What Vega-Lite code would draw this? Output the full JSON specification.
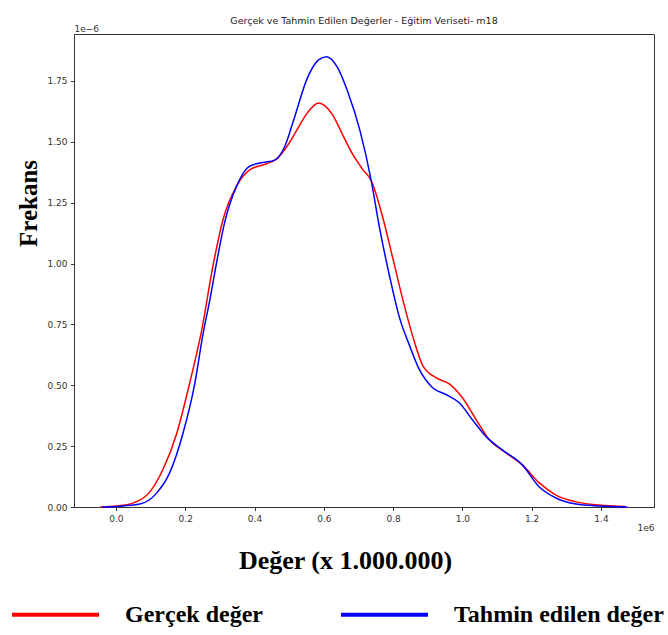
{
  "$schema": "https://vega.github.io/schema/vega-lite/v6.json",
  "width": 580,
  "height": 473,
  "autosize": {"type": "none"},
  "padding": {"left": 74, "top": 34, "right": 14, "bottom": 128},
  "background": "white",
  "title": {
    "text": "Gerçek ve Tahmin Edilen Değerler - Eğitim Veriseti- m18",
    "font": "DejaVu Sans",
    "fontSize": 9.5,
    "fontWeight": "normal",
    "color": "#222222",
    "anchor": "middle",
    "frame": "group",
    "baseline": "alphabetic",
    "offset": -9
  },
  "data": {
    "values": [
      {"v": -0.045, "d": 0.0, "s": "Gerçek değer"},
      {"v": 0.0, "d": 0.004, "s": "Gerçek değer"},
      {"v": 0.049, "d": 0.016, "s": "Gerçek değer"},
      {"v": 0.098, "d": 0.062, "s": "Gerçek değer"},
      {"v": 0.135, "d": 0.152, "s": "Gerçek değer"},
      {"v": 0.175, "d": 0.3, "s": "Gerçek değer"},
      {"v": 0.213, "d": 0.51, "s": "Gerçek değer"},
      {"v": 0.248, "d": 0.73, "s": "Gerçek değer"},
      {"v": 0.28, "d": 0.99, "s": "Gerçek değer"},
      {"v": 0.309, "d": 1.18, "s": "Gerçek değer"},
      {"v": 0.349, "d": 1.32, "s": "Gerçek değer"},
      {"v": 0.386, "d": 1.385, "s": "Gerçek değer"},
      {"v": 0.435, "d": 1.41, "s": "Gerçek değer"},
      {"v": 0.464, "d": 1.43, "s": "Gerçek değer"},
      {"v": 0.493, "d": 1.48, "s": "Gerçek değer"},
      {"v": 0.523, "d": 1.55, "s": "Gerçek değer"},
      {"v": 0.553, "d": 1.62, "s": "Gerçek değer"},
      {"v": 0.585, "d": 1.66, "s": "Gerçek değer"},
      {"v": 0.624, "d": 1.614, "s": "Gerçek değer"},
      {"v": 0.654, "d": 1.53, "s": "Gerçek değer"},
      {"v": 0.684, "d": 1.447, "s": "Gerçek değer"},
      {"v": 0.712, "d": 1.387, "s": "Gerçek değer"},
      {"v": 0.737, "d": 1.34, "s": "Gerçek değer"},
      {"v": 0.77, "d": 1.19, "s": "Gerçek değer"},
      {"v": 0.8, "d": 1.017, "s": "Gerçek değer"},
      {"v": 0.828, "d": 0.852, "s": "Gerçek değer"},
      {"v": 0.857, "d": 0.7, "s": "Gerçek değer"},
      {"v": 0.886, "d": 0.58, "s": "Gerçek değer"},
      {"v": 0.925, "d": 0.53, "s": "Gerçek değer"},
      {"v": 0.963, "d": 0.505, "s": "Gerçek değer"},
      {"v": 1.0, "d": 0.449, "s": "Gerçek değer"},
      {"v": 1.04, "d": 0.358, "s": "Gerçek değer"},
      {"v": 1.078, "d": 0.276, "s": "Gerçek değer"},
      {"v": 1.126, "d": 0.222, "s": "Gerçek değer"},
      {"v": 1.173, "d": 0.173, "s": "Gerçek değer"},
      {"v": 1.222, "d": 0.099, "s": "Gerçek değer"},
      {"v": 1.27, "d": 0.049, "s": "Gerçek değer"},
      {"v": 1.328, "d": 0.021, "s": "Gerçek değer"},
      {"v": 1.395, "d": 0.008, "s": "Gerçek değer"},
      {"v": 1.47, "d": 0.002, "s": "Gerçek değer"},
      {"v": -0.04, "d": 0.0, "s": "Tahmin edilen değer"},
      {"v": 0.0, "d": 0.002, "s": "Tahmin edilen değer"},
      {"v": 0.069, "d": 0.012, "s": "Tahmin edilen değer"},
      {"v": 0.118, "d": 0.058, "s": "Tahmin edilen değer"},
      {"v": 0.155, "d": 0.14, "s": "Tahmin edilen değer"},
      {"v": 0.193, "d": 0.3, "s": "Tahmin edilen değer"},
      {"v": 0.228, "d": 0.51, "s": "Tahmin edilen değer"},
      {"v": 0.252, "d": 0.716, "s": "Tahmin edilen değer"},
      {"v": 0.271, "d": 0.85, "s": "Tahmin edilen değer"},
      {"v": 0.29, "d": 1.0, "s": "Tahmin edilen değer"},
      {"v": 0.314, "d": 1.17, "s": "Tahmin edilen değer"},
      {"v": 0.349, "d": 1.32, "s": "Tahmin edilen değer"},
      {"v": 0.386, "d": 1.4, "s": "Tahmin edilen değer"},
      {"v": 0.424, "d": 1.415, "s": "Tahmin edilen değer"},
      {"v": 0.458, "d": 1.425, "s": "Tahmin edilen değer"},
      {"v": 0.487, "d": 1.48, "s": "Tahmin edilen değer"},
      {"v": 0.513, "d": 1.59, "s": "Tahmin edilen değer"},
      {"v": 0.553, "d": 1.764, "s": "Tahmin edilen değer"},
      {"v": 0.584, "d": 1.836, "s": "Tahmin edilen değer"},
      {"v": 0.608, "d": 1.85, "s": "Tahmin edilen değer"},
      {"v": 0.639, "d": 1.807, "s": "Tahmin edilen değer"},
      {"v": 0.669, "d": 1.706, "s": "Tahmin edilen değer"},
      {"v": 0.704, "d": 1.548, "s": "Tahmin edilen değer"},
      {"v": 0.737, "d": 1.34, "s": "Tahmin edilen değer"},
      {"v": 0.76, "d": 1.153, "s": "Tahmin edilen değer"},
      {"v": 0.79, "d": 0.947, "s": "Tahmin edilen değer"},
      {"v": 0.818, "d": 0.78, "s": "Tahmin edilen değer"},
      {"v": 0.847, "d": 0.665, "s": "Tahmin edilen değer"},
      {"v": 0.876, "d": 0.564, "s": "Tahmin edilen değer"},
      {"v": 0.914, "d": 0.49, "s": "Tahmin edilen değer"},
      {"v": 0.954, "d": 0.461, "s": "Tahmin edilen değer"},
      {"v": 0.991, "d": 0.428, "s": "Tahmin edilen değer"},
      {"v": 1.029, "d": 0.358, "s": "Tahmin edilen değer"},
      {"v": 1.069, "d": 0.288, "s": "Tahmin edilen değer"},
      {"v": 1.115, "d": 0.235, "s": "Tahmin edilen değer"},
      {"v": 1.173, "d": 0.173, "s": "Tahmin edilen değer"},
      {"v": 1.222, "d": 0.082, "s": "Tahmin edilen değer"},
      {"v": 1.27, "d": 0.037, "s": "Tahmin edilen değer"},
      {"v": 1.328, "d": 0.012, "s": "Tahmin edilen değer"},
      {"v": 1.395, "d": 0.004, "s": "Tahmin edilen değer"},
      {"v": 1.476, "d": 0.0, "s": "Tahmin edilen değer"}
    ]
  },
  "layer": [
    {
      "mark": {"type": "line", "interpolate": "monotone", "strokeWidth": 1.5},
      "encoding": {
        "x": {
          "field": "v", "type": "quantitative",
          "scale": {"domain": [-0.121, 1.553], "nice": false, "zero": false},
          "axis": {
            "values": [0, 0.2, 0.4, 0.6, 0.8, 1.0, 1.2, 1.4],
            "format": ".1f",
            "title": "Değer (x 1.000.000)",
            "titleX": 271,
            "titleY": 53,
            "titleAlign": "center",
            "titleBaseline": "middle",
            "titleFontSize": 26
          }
        },
        "y": {
          "field": "d", "type": "quantitative",
          "scale": {"domain": [0, 1.943], "nice": false},
          "axis": {
            "values": [0, 0.25, 0.5, 0.75, 1.0, 1.25, 1.5, 1.75],
            "format": ".2f",
            "title": "Frekans",
            "titleX": -46,
            "titleY": 169,
            "titleAngle": -90,
            "titleAlign": "center",
            "titleBaseline": "middle",
            "titleFontSize": 25
          }
        },
        "color": {
          "field": "s", "type": "nominal",
          "scale": {"domain": ["Gerçek değer", "Tahmin edilen değer"], "range": ["#ff0000", "#0000ff"]},
          "legend": {
            "title": null,
            "orient": "none",
            "direction": "horizontal",
            "legendX": -64,
            "legendY": 535,
            "padding": 0,
            "symbolType": "stroke",
            "symbolSize": 7569,
            "symbolStrokeWidth": 4,
            "labelFont": "Liberation Serif",
            "labelFontWeight": "bold",
            "labelFontSize": 24,
            "labelColor": "black",
            "labelOffset": 24,
            "columnPadding": 70,
            "labelLimit": 500,
            "encode": {
              "symbols": {
                "enter": {"stroke": {"signal": "datum.value === 'Gerçek değer' ? '#ee1d25' : '#0b61e2'"}},
                "update": {"stroke": {"signal": "datum.value === 'Gerçek değer' ? '#ee1d25' : '#0b61e2'"}}
              }
            }
          }
        }
      }
    },
    {
      "mark": {"type": "line", "opacity": 0},
      "encoding": {
        "x": {
          "field": "v", "type": "quantitative",
          "scale": {"domain": [-0.121, 1.553], "nice": false, "zero": false},
          "axis": {
            "orient": "top", "labels": false, "ticks": false, "domain": false,
            "title": "1e−6",
            "titleFont": "DejaVu Sans", "titleFontWeight": "normal", "titleFontSize": 9,
            "titleColor": "#333333",
            "titleX": 0, "titleY": -3,
            "titleAlign": "left", "titleBaseline": "alphabetic"
          }
        },
        "y": {
          "field": "d", "type": "quantitative",
          "scale": {"domain": [0, 1.943], "nice": false},
          "axis": {
            "orient": "right", "labels": false, "ticks": false, "domain": false,
            "title": "1e6",
            "titleFont": "DejaVu Sans", "titleFontWeight": "normal", "titleFontSize": 9,
            "titleColor": "#333333",
            "titleAngle": 0,
            "titleX": 0, "titleY": 496,
            "titleAlign": "right", "titleBaseline": "alphabetic"
          }
        },
        "detail": {"field": "s"}
      }
    }
  ],
  "resolve": {"axis": {"x": "independent", "y": "independent"}},
  "config": {
    "view": {"stroke": "#333333", "strokeWidth": 1},
    "axis": {
      "grid": false,
      "labelFont": "DejaVu Sans",
      "labelFontSize": 9,
      "labelColor": "#333333",
      "tickColor": "#333333",
      "domainColor": "#333333",
      "tickSize": 3.5,
      "labelPadding": 3.5,
      "titleFont": "Liberation Serif",
      "titleFontWeight": "bold",
      "titleColor": "black"
    }
  }
}
